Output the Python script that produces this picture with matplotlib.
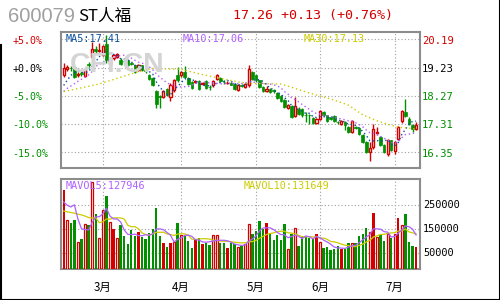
import numpy as np
import pandas as pd
import matplotlib
matplotlib.use("Agg")
import matplotlib.pyplot as plt
from matplotlib.lines import Line2D

# ---------------- data ----------------
opens = [18.96, 19.17, 19.22, 19.24, 18.97, 19.04, 18.93, 19.35, 19.59, 19.85,
         19.80, 19.67, 20.04, 19.36, 19.55, 19.59, 19.50, 19.46, 19.47, 19.37,
         19.30, 19.13, 19.30, 19.15, 18.98, 18.87, 18.42, 18.25, 18.23, 18.49,
         18.23, 18.45, 18.99, 18.96, 19.08, 18.88, 18.74, 18.75, 18.76, 18.67,
         18.76, 18.58, 18.62, 18.83, 18.87, 18.75, 18.70, 18.72, 18.66, 18.45,
         18.64, 18.57, 18.62, 19.08, 18.96, 18.79, 18.57, 18.42, 18.51, 18.45,
         18.37, 18.25, 18.11, 17.85, 17.92, 17.58, 17.83, 17.81, 17.62, 17.62,
         17.51, 17.35, 17.49, 17.71, 17.60, 17.54, 17.58, 17.39, 17.31, 17.37,
         17.20, 17.03, 17.20, 17.17, 16.94, 16.69, 16.35, 16.52, 17.01, 16.86,
         16.60, 16.30, 16.75, 16.38, 16.81, 17.40, 17.71, 17.47, 17.28, 17.15]
highs = [19.39, 19.32, 19.28, 19.28, 19.08, 19.10, 19.22, 19.42, 20.10, 19.98,
         20.05, 20.00, 20.33, 19.50, 19.68, 19.72, 19.55, 19.50, 19.50, 19.40,
         19.33, 19.35, 19.33, 19.20, 19.02, 18.90, 18.45, 18.28, 18.45, 18.52,
         18.70, 18.85, 19.25, 19.12, 19.28, 18.92, 18.78, 18.80, 18.80, 18.74,
         18.80, 18.62, 18.80, 19.02, 18.92, 18.80, 18.76, 18.75, 18.70, 18.66,
         18.68, 18.72, 19.33, 19.12, 18.98, 18.82, 18.60, 18.60, 18.55, 18.50,
         18.40, 18.30, 18.15, 18.00, 17.97, 18.23, 17.88, 17.85, 17.70, 17.66,
         17.55, 17.52, 17.80, 17.74, 17.63, 17.58, 17.62, 17.42, 17.45, 17.40,
         17.24, 17.45, 17.24, 17.20, 16.97, 16.72, 16.70, 17.32, 17.20, 16.90,
         16.63, 16.80, 16.78, 16.72, 17.25, 17.80, 18.15, 17.55, 17.32, 17.38]
lows = [18.90, 19.12, 19.10, 18.86, 18.92, 18.95, 18.90, 19.20, 19.55, 19.72,
        19.75, 19.62, 19.40, 19.28, 19.50, 19.55, 19.33, 19.38, 19.27, 19.30,
        19.05, 19.10, 19.12, 19.05, 18.82, 18.60, 17.85, 17.85, 18.20, 18.25,
        18.10, 18.40, 18.75, 18.92, 18.88, 18.65, 18.50, 18.70, 18.48, 18.62,
        18.50, 18.45, 18.58, 18.80, 18.73, 18.68, 18.66, 18.62, 18.48, 18.42,
        18.56, 18.54, 18.58, 18.82, 18.75, 18.55, 18.40, 18.40, 18.38, 18.38,
        18.15, 18.05, 17.85, 17.82, 17.50, 17.55, 17.62, 17.55, 17.38, 17.32,
        17.32, 17.30, 17.45, 17.58, 17.36, 17.44, 17.36, 17.30, 17.28, 17.10,
        17.00, 17.00, 17.14, 16.95, 16.66, 16.32, 16.04, 16.45, 16.95, 16.57,
        16.32, 16.22, 16.38, 16.30, 16.78, 17.35, 17.55, 17.28, 17.05, 17.12]
closes = [19.21, 19.25, 19.20, 18.90, 19.02, 19.00, 19.19, 19.32, 19.85, 19.78,
          19.83, 19.96, 19.47, 19.47, 19.65, 19.68, 19.36, 19.44, 19.30, 19.35,
          19.08, 19.30, 19.15, 19.10, 18.85, 18.64, 18.00, 18.22, 18.42, 18.28,
          18.63, 18.79, 18.80, 19.08, 18.91, 18.68, 18.53, 18.77, 18.51, 18.69,
          18.53, 18.56, 18.76, 18.97, 18.76, 18.73, 18.72, 18.65, 18.51, 18.63,
          18.61, 18.68, 19.17, 18.85, 18.79, 18.57, 18.42, 18.51, 18.40, 18.43,
          18.19, 18.10, 17.89, 17.97, 17.55, 17.92, 17.66, 17.60, 17.60, 17.60,
          17.35, 17.49, 17.74, 17.62, 17.40, 17.47, 17.40, 17.36, 17.40, 17.26,
          17.03, 17.40, 17.18, 16.98, 16.69, 16.35, 16.50, 17.14, 17.03, 16.60,
          16.35, 16.75, 16.41, 16.69, 17.20, 17.74, 17.58, 17.32, 17.13, 17.26]
volumes = [314000, 189000, 176000, 189000, 97000, 111000, 171000, 168000, 347000, 212000,
           114000, 230000, 289000, 180000, 152000, 114000, 168000, 122000, 89000, 147000,
           122000, 139000, 118000, 111000, 134000, 152000, 240000, 122000, 94000, 78000,
           94000, 98000, 176000, 125000, 128000, 101000, 73000, 108000, 115000, 90000,
           94000, 83000, 125000, 125000, 94000, 94000, 73000, 94000, 87000, 78000,
           80000, 87000, 171000, 129000, 143000, 184000, 150000, 175000, 129000, 105000,
           126000, 105000, 171000, 67000, 129000, 157000, 80000, 122000, 122000, 115000,
           111000, 129000, 97000, 73000, 77000, 64000, 69000, 80000, 69000, 69000,
           94000, 91000, 94000, 122000, 129000, 154000, 139000, 217000, 119000, 125000,
           101000, 129000, 115000, 129000, 198000, 167000, 212000, 97000, 80000, 77000]
# g = green filled, r = red filled, h = red hollow
vol_kind = list("rhgghghghg"
                "hhghrhgggg"
                "grggggggrg"
                "rhghgggrgr"
                "gghhggrggh"
                "ghhggggrgg"
                "ggghghgggg"
                "grhgggggrg"
                "ghgggghrhg"
                "ghghrhgggr")
ma5_head = [18.62, 18.80, 18.96, 19.06]
ma10_head = [18.42, 18.52, 18.60, 18.68, 18.76, 18.83, 18.90, 18.98, 19.10]
ma30_idx = [0, 10, 21, 25, 29, 33, 38, 44, 49, 52, 61, 65, 68, 72, 75, 80, 84, 88, 91, 94, 97, 99]
ma30_val = [18.41, 18.67, 19.09, 19.20, 19.18, 19.17, 19.02, 18.86, 18.74, 18.69, 18.67,
            18.52, 18.40, 18.26, 18.16, 17.95, 17.62, 17.42, 17.30, 17.20, 17.17, 17.13]
mavol5_head = [264000, 250000, 243000, 252000]
mavol10_head = [226000, 223000, 220000, 217000, 213000, 210000, 205000, 199000, 197000]

price_ticks = [20.19, 19.23, 18.27, 17.31, 16.35]
price_labels = ["20.19", "19.23", "18.27", "17.31", "16.35"]
pct_labels = ["+5.0%", "+0.0%", "-5.0%", "-10.0%", "-15.0%"]
vol_ticks = [250000, 150000, 50000]
vol_labels = ["250000", "150000", "50000"]
month_idx = [11, 33, 54, 72, 93]
month_labels = ["3月", "4月", "5月", "6月", "7月"]

code = "600079"
name = "ST人福"
quote = "17.26 +0.13 (+0.76%)"
ma_texts = ["MA5:17.41", "MA10:17.06", "MA30:17.13"]
vol_texts = ["MAVOL5:127946", "MAVOL10:131649"]

# ---------------- style ----------------
RED = "#d40000"
GREEN = "#009000"
BLUE = "#0a4f9e"
PURPLE = "#b060ff"
YELLOW = "#cccc00"
GRID = "#a0a0a0"
FRAME = "#8c8c8c"
MONO = "DejaVu Sans Mono"
CJK = ["Noto Sans CJK SC", "DejaVu Sans"]

W, H = 500, 300
fig = plt.figure(figsize=(5, 3), dpi=100)
fig.patch.set_facecolor("white")


def fx(x):
    return x / W


def fy(y):
    return 1 - y / H


pl, pr, pt, pb = 60.7, 420, 32, 168
vt, vb = 178.7, 269.3
axp = fig.add_axes([fx(pl), fy(pb), (pr - pl) / W, (pb - pt) / H])
axv = fig.add_axes([fx(pl), fy(vb), (pr - pl) / W, (vb - vt) / H])

n = len(closes)
x = np.arange(n)
xlim = (-0.84, 100.1)

o = np.array(opens); c = np.array(closes); hi = np.array(highs); lo = np.array(lows)
up = c >= o

for ax in (axp, axv):
    ax.set_xlim(*xlim)
    ax.set_xticks([])
    ax.set_yticks([])
    ax.set_facecolor("none")
    for s in ax.spines.values():
        s.set_color(FRAME)
        s.set_linewidth(1.5)
    for m in month_idx:
        ax.axvline(m, color=GRID, lw=0.8, ls=(0, (1, 2)), zorder=0)

ylo, yhi = 15.81, 20.44
axp.set_ylim(ylo, yhi)
for t in price_ticks:
    axp.axhline(t, color=GRID, lw=0.8, ls=(0, (1, 2)), zorder=0)

# watermark
fig.text(fx(117), fy(65), "CFi.CN", ha="center", va="center",
         fontsize=20.5, fontweight="bold", family="Liberation Sans", color="#d4d4d4", zorder=0.5)

bw = 0.74
body_lo = np.minimum(o, c)
body_h = np.maximum(np.abs(c - o), 0.012)
colors = np.where(up, RED, GREEN)
axp.vlines(x, lo, hi, colors=colors, lw=1.0, zorder=2)
axp.bar(x[up], body_h[up], bottom=body_lo[up], width=bw - 0.12, facecolor="white",
        edgecolor=RED, linewidth=1.0, zorder=3)
axp.bar(x[~up], body_h[~up], bottom=body_lo[~up], width=bw, facecolor=GREEN,
        edgecolor=GREEN, linewidth=0.5, zorder=3)

cs = pd.Series(closes)
ma5 = cs.rolling(5).mean().to_numpy()
ma5[:len(ma5_head)] = ma5_head
ma10 = cs.rolling(10).mean().to_numpy()
ma10[:len(ma10_head)] = ma10_head
axp.plot(x, ma5, color=BLUE, lw=1.0, ls=(0, (1, 2)), zorder=4)
axp.plot(x, ma10, color=PURPLE, lw=1.0, ls=(0, (1, 2)), zorder=4)
axp.plot(ma30_idx, ma30_val, color=YELLOW, lw=1.0, ls=(0, (1, 2)), zorder=4)

vbot, vtop = -16700, 360800
axv.set_ylim(vbot, vtop)
for t in vol_ticks:
    axv.axhline(t, color=GRID, lw=0.8, ls=(0, (1, 2)), zorder=0)
vols = np.array(volumes, dtype=float)
kind = np.array(vol_kind)
for k, fc, ec, wd, lw in (("g", GREEN, "none", 0.66, 0), ("r", RED, "none", 0.66, 0),
                          ("h", "white", RED, 0.56, 0.9)):
    sel = kind == k
    axv.bar(x[sel], vols[sel] - vbot, bottom=vbot, width=wd, facecolor=fc,
            edgecolor=ec, linewidth=lw, zorder=3)
vs = pd.Series(volumes, dtype=float)
mv5 = vs.rolling(5).mean().to_numpy()
mv5[:len(mavol5_head)] = mavol5_head
mv10 = vs.rolling(10).mean().to_numpy()
mv10[:len(mavol10_head)] = mavol10_head
axv.plot(x, mv10, color=YELLOW, lw=0.9, zorder=4)
axv.plot(x, mv5, color=PURPLE, lw=0.9, zorder=4)

fig.text(fx(8), fy(16), code, family="Liberation Sans", fontsize=14.5,
         color="#a0a0a0", va="center", ha="left")
fig.text(fx(78), fy(16), name, family=CJK, fontsize=12, color="black", va="center", ha="left")
fig.text(fx(233), fy(16), quote, family=MONO, fontsize=9.6, color=RED, va="center", ha="left")

pct_cols = [RED, "black", GREEN, GREEN, GREEN]
for t, lab, col in zip(price_ticks, pct_labels, pct_cols):
    ypx = pt + (yhi - t) / (yhi - ylo) * (pb - pt) + 1.5
    fig.text(fx(12.5), fy(ypx), lab, family=MONO, fontsize=7.2, color=col, va="center", ha="left")
for t, lab, col in zip(price_ticks, price_labels, pct_cols):
    ypx = pt + (yhi - t) / (yhi - ylo) * (pb - pt) + 1.5
    fig.text(fx(422), fy(ypx), lab, family=MONO, fontsize=7.6, color=col, va="center", ha="left")
for t, lab in zip(vol_ticks, vol_labels):
    ypx = vt + (vtop - t) / (vtop - vbot) * (vb - vt)
    fig.text(fx(423), fy(ypx), lab, family=MONO, fontsize=7.4, color="black", va="center", ha="left")

for m, lab in zip(month_idx, month_labels):
    xpx = pl + (m - xlim[0]) / (xlim[1] - xlim[0]) * (pr - pl)
    fig.text(fx(xpx), fy(287), lab, family=CJK, fontsize=8.3, color="black", va="center", ha="center")

for xp, txt, col in zip([65.5, 183, 303.5], ma_texts, [BLUE, PURPLE, YELLOW]):
    fig.text(fx(xp), fy(38.5), txt, family=MONO, fontsize=7.3, color=col, va="center", ha="left", zorder=10)
for xp, txt, col in zip([65.5, 244], vol_texts, [PURPLE, YELLOW]):
    fig.text(fx(xp), fy(186), txt, family=MONO, fontsize=7.3, color=col, va="center", ha="left", zorder=10)

# outer frame: left (lower part), bottom, right
for xs, ys in (([0.5, 0.5], [45, 299.5]), ([0.5, 499.5], [299.5, 299.5]), ([499.5, 499.5], [0, 299.5])):
    fig.add_artist(Line2D([fx(v) for v in xs], [fy(v) for v in ys], color="black", lw=1.5,
                          transform=fig.transFigure, zorder=20))

fig.savefig("out.png", dpi=100)
